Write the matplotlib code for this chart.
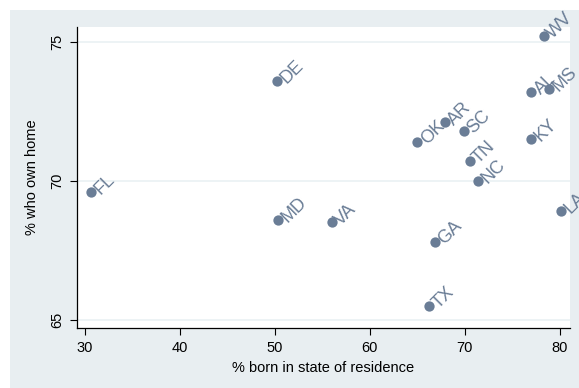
import matplotlib.pyplot as plt
from matplotlib.patches import Rectangle

states = ['WV', 'DE', 'AL', 'MS', 'AR', 'SC', 'OK', 'KY',
          'TN', 'NC', 'FL', 'MD', 'VA', 'LA', 'GA', 'TX']
born_in_state = [78.3, 50.2, 77.0, 78.8, 67.9, 69.9, 65.0, 77.0,
                 70.5, 71.4, 30.7, 50.3, 56.0, 80.1, 66.8, 66.2]
own_home = [75.2, 73.6, 73.2, 73.3, 72.1, 71.8, 71.4, 71.5,
            70.7, 70.0, 69.6, 68.6, 68.5, 68.9, 67.8, 65.5]

xticks = [30, 40, 50, 60, 70, 80]
yticks = [65, 70, 75]

bg = '#e8eef1'
mcolor = '#6a7d96'
plt.rcParams['font.family'] = ['Liberation Sans', 'DejaVu Sans']

fig = plt.figure(figsize=(5.79, 3.88), dpi=100, facecolor='white')
# grey-blue graph region, leaving a white strip at top and left
fig.add_artist(Rectangle((10 / 579, 0), 1, 378 / 388, transform=fig.transFigure,
                         facecolor=bg, edgecolor='none', zorder=-10))

ax = fig.add_axes([76.5 / 579, 60 / 388, (570 - 76.5) / 579, (328 - 27) / 388])
ax.set_facecolor('white')

for y in yticks:
    ax.axhline(y, color='#eaf1f4', linewidth=1.2, zorder=1)

ax.scatter(born_in_state, own_home, s=55, color=mcolor, zorder=3, linewidths=0)
for name, x, y in zip(states, born_in_state, own_home):
    ax.annotate(name, (x, y), xytext=(4.5, 0), textcoords='offset points',
                rotation=45, rotation_mode='anchor', ha='left', va='center',
                color=mcolor, fontsize=13, annotation_clip=False, clip_on=False)

ax.set_xlim(29.15, 81.05)
ax.set_ylim(64.7, 75.53)
ax.set_xticks(xticks)
ax.set_yticks(yticks)
ax.set_yticklabels([str(t) for t in yticks], rotation=90, va='center')
ax.tick_params(length=5, width=0.8, labelsize=10.5, pad=4)

for side in ['top', 'right']:
    ax.spines[side].set_visible(False)
for side in ['left', 'bottom']:
    ax.spines[side].set_linewidth(0.9)

ax.set_xlabel('% born in state of residence', fontsize=10.5, labelpad=5)
ax.set_ylabel('% who own home', fontsize=10.5, labelpad=8)

fig.savefig('out.png', dpi=100, facecolor='white')
